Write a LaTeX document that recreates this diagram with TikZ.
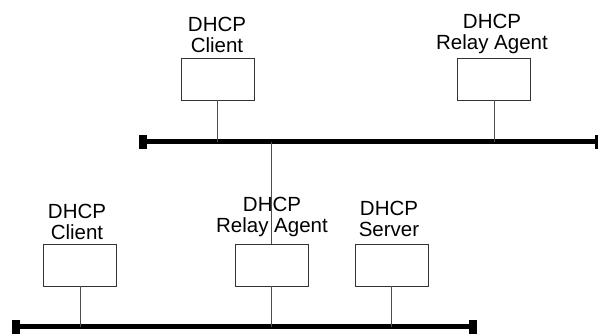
\documentclass[tikz,border=0pt]{standalone}
\usepackage{fontspec}
\setmainfont{Liberation Sans}
\usetikzlibrary{positioning}

\begin{document}
\begin{tikzpicture}[x=1pt, y=-1pt,
    box/.style={draw=black!80, line width=0.8pt, minimum width=73pt, minimum height=42pt, inner sep=0pt},
    lbl/.style={align=center, inner sep=0pt, anchor=south, text depth=0pt, font=\fontsize{20.5}{21}\selectfont},
    endstop/.style={fill=black, minimum width=8pt, minimum height=14pt, inner sep=0pt},
    bus/.style={line width=5.5pt},
    ln/.style={line width=0.6pt, black!70}
  ]
    \clip (0,0) rectangle (598,333);
    % ---- upper segment ----
    \node[endstop] (tL) at (143,141.5) {};
    \node[endstop] (tR) at (599,141.5) {};
    \draw[bus] (tL) -- (tR);
    \node[box] (cT) at (217.5,79) {};
    \node[box] (rT) at (494,79) {};
    \node[lbl] (cTl) at (217,53) {DHCP\\Client};
    \node[lbl] (rTl) at (492,50) {DHCP\\Relay Agent};
    \draw[ln] (cT) -- (cT |- tL);
    \draw[ln] (rT) -- (rT |- tL);
    % ---- lower segment ----
    \node[endstop] (bL) at (15.5,326.5) {};
    \node[endstop] (bR) at (473,326.5) {};
    \draw[bus] (bL) -- (bR);
    \node[box] (cB) at (80,265) {};
    \node[box] (rB) at (271.5,265) {};
    \node[box] (sB) at (391.5,265) {};
    \node[lbl] (cBl) at (77,240) {DHCP\\Client};
    \node[lbl] (rBl) at (272,233) {DHCP\\Relay Agent};
    \node[lbl] (sBl) at (389,237) {DHCP\\Server};
    \draw[ln] (cB) -- (cB |- bL);
    \draw[ln] (rB) -- (rB |- bL);
    \draw[ln] (sB) -- (sB |- bL);
    % relay agent joins both segments
    \draw[ln] (rB.north |- tL) -- (rB.north);
\end{tikzpicture}
\end{document}
